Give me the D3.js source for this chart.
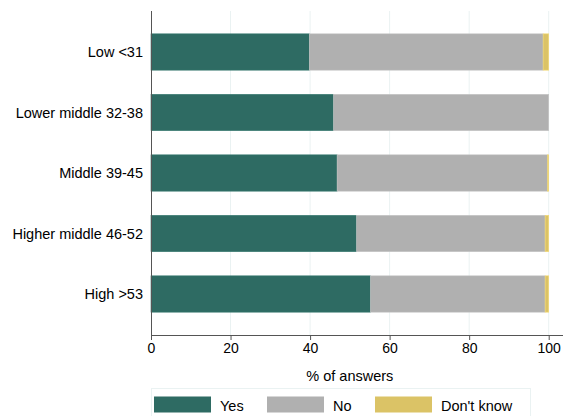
<!DOCTYPE html>
<html><head><meta charset="utf-8">
<script src="https://cdn.jsdelivr.net/npm/d3@7"></script>
<style>body{margin:0;background:#fff;} svg{display:block;font-family:"Liberation Sans",Arial,Helvetica,sans-serif;}</style>
</head><body>
<svg id="chart" width="572" height="416"></svg>
<script>
const categories = ["Low <31","Lower middle 32-38","Middle 39-45","Higher middle 46-52","High >53"];
const yesValues = [39.8, 45.9, 46.8, 51.7, 55.2];
const noValues = [58.8, 54.1, 52.9, 47.4, 43.9];
const dontKnowValues = [1.4, 0.0, 0.3, 0.9, 0.9];
const seriesNames = ["Yes","No","Don't know"];
const seriesColors = ["#2e6b63","#b0b0b0","#dbc366"];
const xTicks = [0,20,40,60,80,100];
const xTitle = "% of answers";

const svg = d3.select("#chart");
const x = d3.scaleLinear().domain([0,100]).range([151,548.7]);
const y = d3.scaleBand().domain(categories).range([21.75,324.25]).paddingInner(0.4).paddingOuter(0.2);
const plotTop = 11, plotBottom = 335;

// gridlines
svg.append("g").selectAll("line").data(xTicks.filter(d=>d>0)).join("line")
  .attr("x1",d=>x(d)).attr("x2",d=>x(d)).attr("y1",plotTop).attr("y2",plotBottom)
  .attr("stroke","#eaf2f2").attr("stroke-width",1);

const rows = categories.map((c,i)=>({cat:c, vals:[yesValues[i],noValues[i],dontKnowValues[i]]}));
const segs = [];
rows.forEach(r=>{ let acc=0; r.vals.forEach((v,j)=>{ segs.push({cat:r.cat, s:j, x0:acc, x1:acc+v}); acc+=v; }); });
svg.append("g").selectAll("rect").data(segs.filter(d=>d.x1>d.x0)).join("rect")
  .attr("x",d=>x(d.x0)).attr("width",d=>x(d.x1)-x(d.x0))
  .attr("y",d=>y(d.cat)).attr("height",y.bandwidth())
  .attr("fill",d=>seriesColors[d.s])
  .attr("stroke",d=>d3.color(seriesColors[d.s]).brighter(0.3)).attr("stroke-width",0.6);

// x axis
const xAxis = d3.axisBottom(x).tickValues(xTicks).tickSize(5).tickSizeOuter(0).tickPadding(3);
const gx = svg.append("g").attr("transform",`translate(0,${plotBottom})`).call(xAxis);
gx.select(".domain").attr("d",`M151,0.5H563`).attr("stroke","#555");
gx.selectAll(".tick line").attr("stroke","#555");
gx.selectAll("text").attr("font-size",14).attr("fill","#000").attr("font-family","Liberation Sans, Arial, sans-serif");

// y axis line
svg.append("line").attr("x1",151.5).attr("x2",151.5).attr("y1",plotTop).attr("y2",plotBottom)
  .attr("stroke","#555").attr("stroke-width",1);
// y labels
svg.append("g").selectAll("text").data(categories).join("text")
  .attr("x",143).attr("y",d=>y(d)+y.bandwidth()/2).attr("dy","0.35em")
  .attr("text-anchor","end").attr("font-size",14.5).attr("fill","#000").text(d=>d);

// x title
svg.append("text").attr("x",(x(0)+x(100))/2).attr("y",381).attr("text-anchor","middle")
  .attr("font-size",14.5).attr("fill","#000").text(xTitle);

// legend
svg.append("rect").attr("x",151.5).attr("y",388.5).attr("width",379).attr("height",40)
  .attr("fill","none").attr("stroke","#eaf2f2");
const legX = [154,267,375];
const lg = svg.append("g").selectAll("g").data(seriesNames).join("g")
  .attr("transform",(d,i)=>`translate(${legX[i]},396.5)`);
lg.append("rect").attr("width",57).attr("height",16).attr("fill",(d,i)=>seriesColors[i]);
lg.append("text").attr("x",66).attr("y",14).attr("font-size",14.5).attr("fill","#000").text(d=>d);
</script>
</body></html>
